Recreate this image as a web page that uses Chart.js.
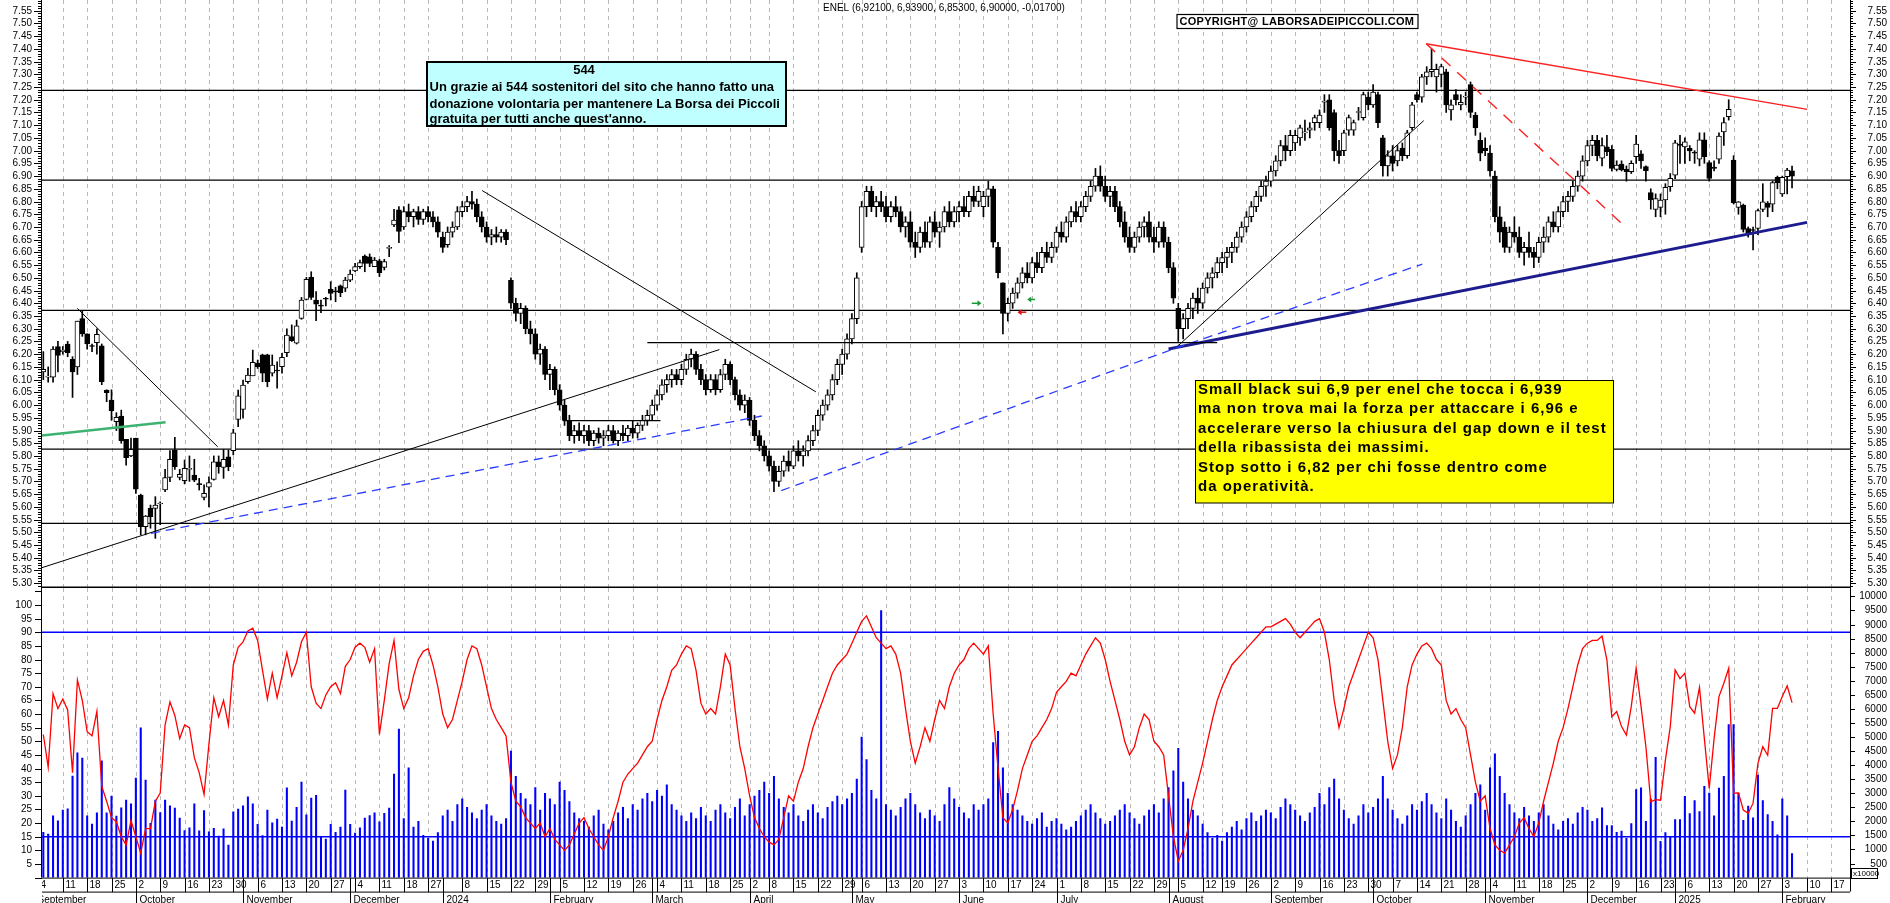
<!DOCTYPE html>
<html>
<head>
<meta charset="utf-8">
<script src="https://cdn.jsdelivr.net/npm/chart.js@4.4.1/dist/chart.umd.min.js"></script>
<style>
html, body { margin: 0; padding: 0; background: #fff; }
#wrap { position: relative; width: 1890px; height: 903px; overflow: hidden; }
#priceCanvas { position: absolute; left: 0; top: 0; }
#oscCanvas { position: absolute; left: 0; top: 588px; }
</style>
</head>
<body>
<div id="wrap">
  <canvas id="priceCanvas" width="1890" height="588"></canvas>
  <canvas id="oscCanvas" width="1890" height="315"></canvas>
</div>
<script>
// ENEL daily, 5 Sep 2023 - 5 Feb 2025 (one value per trading day)
const openP = [
  // Sep 2023
  6.13,6.11,6.11,6.23,6.21,6.24,6.18,6.15,6.34,6.28,6.232,6.245,6.233,6.059,6.02,5.935,5.957,5.865,5.80,
  // Oct
  5.869,5.646,5.522,5.594,5.594,5.611,5.666,5.716,5.823,5.716,5.703,5.747,5.725,5.688,5.637,5.677,5.708,5.777,5.755,5.797,5.821,5.944,
  // Nov
  5.983,6.092,6.115,6.164,6.197,6.197,6.125,6.135,6.151,6.206,6.269,6.243,6.341,6.415,6.502,6.413,6.39,6.417,6.455,6.446,6.469,6.459,
  // Dec
  6.491,6.527,6.544,6.586,6.583,6.544,6.567,6.541,6.616,6.708,6.767,6.70,6.76,6.74,6.76,6.73,6.76,6.74,6.72,
  // Jan 2024
  6.66,6.63,6.68,6.70,6.76,6.78,6.80,6.79,6.74,6.70,6.66,6.67,6.66,6.68,6.49,6.40,6.36,6.38,6.30,6.28,6.20,6.22,
  // Feb
  6.12,6.14,6.06,6.00,5.94,5.88,5.90,5.88,5.90,5.86,5.89,5.87,5.88,5.90,5.86,5.89,5.88,5.91,5.89,5.92,5.94,
  // Mar
  5.96,6.00,6.04,6.08,6.10,6.12,6.10,6.14,6.18,6.20,6.14,6.10,6.06,6.10,6.06,6.12,6.16,6.10,6.04,6.00,
  // Apr
  6.02,5.94,5.88,5.84,5.80,5.76,5.70,5.74,5.78,5.76,5.82,5.80,5.82,5.86,5.90,5.96,6.00,6.04,6.10,6.16,6.20,
  // May
  6.26,6.34,6.62,6.78,6.84,6.78,6.80,6.78,6.74,6.78,6.76,6.70,6.72,6.64,6.62,6.68,6.64,6.72,6.68,6.70,6.76,6.72,
  // Jun
  6.76,6.78,6.76,6.82,6.80,6.78,6.82,6.85,6.62,6.48,6.36,6.40,6.44,6.48,6.52,6.50,6.56,6.54,6.60,6.58,
  // Jul
  6.62,6.68,6.66,6.72,6.76,6.74,6.78,6.82,6.86,6.90,6.86,6.82,6.84,6.78,6.72,6.66,6.62,6.66,6.70,6.72,6.66,6.64,6.70,
  // Aug
  6.64,6.54,6.38,6.30,6.34,6.38,6.42,6.40,6.46,6.50,6.52,6.56,6.58,6.60,6.62,6.66,6.70,6.74,6.78,6.82,6.86,
  // Sep
  6.88,6.92,6.96,7.02,7.00,7.03,7.05,7.07,7.08,7.11,7.11,7.19,7.20,7.15,7.00,7.00,7.08,7.08,7.15,7.13,7.21,
  // Oct
  7.18,7.22,7.05,6.94,6.98,6.96,7.01,6.98,7.09,7.22,7.21,7.29,7.31,7.29,7.30,7.31,7.16,7.22,7.18,7.21,7.26,7.14,7.04,
  // Nov
  7.01,6.99,6.90,6.74,6.70,6.62,6.68,6.66,6.60,6.62,6.60,6.58,6.64,6.66,6.72,6.70,6.76,6.80,6.82,6.86,6.90,
  // Dec
  6.96,7.02,7.04,6.97,7.015,7.005,6.926,6.947,6.926,6.917,6.976,6.987,6.937,6.835,6.769,6.777,6.806,6.858,
  // Jan 2025
  6.904,7.026,7.015,7.009,6.993,6.966,7.042,6.953,6.935,6.966,7.074,7.133,6.963,6.777,6.786,6.694,6.688,6.694,6.769,6.793,6.79,6.895,
  // Feb
  6.83,6.898,6.921
];
const highP = [
  6.21,6.15,6.23,6.25,6.23,6.25,6.19,6.33,6.37,6.28,6.24,6.30,6.24,6.06,6.06,5.97,5.98,5.865,5.87,
  5.87,5.65,5.566,5.607,5.64,5.62,5.747,5.821,5.873,5.747,5.784,5.80,5.787,5.712,5.686,5.718,5.80,5.80,5.826,5.823,5.905,6.059,
  6.098,6.144,6.216,6.177,6.20,6.20,6.197,6.17,6.203,6.30,6.315,6.334,6.423,6.502,6.524,6.446,6.413,6.423,6.485,6.463,6.472,6.502,
  6.531,6.557,6.57,6.59,6.594,6.58,6.573,6.573,6.627,6.769,6.78,6.78,6.79,6.77,6.78,6.77,6.78,6.76,6.74,
  6.68,6.70,6.72,6.78,6.80,6.82,6.84,6.81,6.76,6.72,6.69,6.70,6.69,6.69,6.50,6.42,6.40,6.39,6.33,6.30,6.24,6.23,
  6.16,6.15,6.08,6.02,5.96,5.92,5.93,5.92,5.92,5.90,5.91,5.90,5.92,5.92,5.90,5.92,5.92,5.94,5.93,5.96,5.98,
  6.02,6.06,6.10,6.12,6.14,6.14,6.16,6.20,6.22,6.21,6.16,6.12,6.12,6.12,6.14,6.18,6.17,6.11,6.06,6.04,
  6.03,5.96,5.90,5.86,5.82,5.78,5.76,5.80,5.82,5.84,5.86,5.84,5.88,5.92,5.98,6.02,6.06,6.12,6.18,6.22,6.28,
  6.36,6.52,6.80,6.86,6.86,6.82,6.84,6.82,6.80,6.82,6.78,6.74,6.76,6.68,6.70,6.72,6.74,6.76,6.72,6.78,6.80,6.78,
  6.80,6.82,6.84,6.86,6.86,6.84,6.88,6.86,6.64,6.48,6.42,6.46,6.50,6.54,6.56,6.58,6.60,6.62,6.64,6.64,
  6.70,6.72,6.74,6.78,6.80,6.80,6.84,6.88,6.93,6.94,6.90,6.86,6.86,6.80,6.76,6.70,6.68,6.72,6.74,6.76,6.70,6.72,6.72,
  6.66,6.56,6.40,6.36,6.40,6.44,6.46,6.48,6.52,6.54,6.58,6.60,6.62,6.64,6.68,6.72,6.76,6.80,6.84,6.88,6.90,
  6.94,6.98,7.04,7.06,7.08,7.08,7.10,7.12,7.11,7.14,7.16,7.22,7.22,7.16,7.04,7.08,7.14,7.12,7.17,7.23,7.23,
  7.26,7.23,7.06,7.00,7.02,7.02,7.03,7.08,7.19,7.23,7.30,7.33,7.40,7.34,7.34,7.32,7.20,7.24,7.22,7.23,7.27,7.15,7.07,
  7.05,7.02,6.92,6.78,6.72,6.70,6.74,6.70,6.64,6.68,6.62,6.66,6.70,6.74,6.76,6.78,6.82,6.84,6.88,6.92,6.98,
  7.04,7.06,7.06,7.05,7.06,7.02,6.96,6.96,6.94,6.96,7.06,7.00,6.94,6.85,6.83,6.83,6.87,6.91,
  7.04,7.06,7.05,7.02,7.00,7.07,7.07,6.96,6.96,7.07,7.13,7.20,6.98,6.80,6.79,6.70,6.70,6.77,6.87,6.80,6.88,6.90,
  6.90,6.93,6.939
];
const lowP = [
  6.10,6.09,6.09,6.13,6.20,6.19,6.03,6.12,6.27,6.22,6.21,6.20,6.08,6.013,5.94,5.90,5.85,5.764,5.797,
  5.653,5.49,5.49,5.516,5.476,5.53,5.66,5.699,5.747,5.706,5.69,5.70,5.699,5.666,5.627,5.60,5.705,5.732,5.712,5.742,5.804,5.915,
  5.948,6.085,6.115,6.144,6.092,6.072,6.114,6.066,6.125,6.19,6.25,6.24,6.337,6.413,6.415,6.332,6.363,6.39,6.413,6.406,6.426,6.446,
  6.485,6.524,6.537,6.524,6.544,6.544,6.505,6.531,6.583,6.701,6.638,6.69,6.72,6.70,6.71,6.71,6.72,6.70,6.66,
  6.60,6.62,6.66,6.69,6.74,6.76,6.77,6.72,6.68,6.64,6.63,6.64,6.64,6.63,6.38,6.33,6.32,6.28,6.24,6.18,6.16,6.10,
  6.06,6.04,5.98,5.92,5.86,5.85,5.86,5.85,5.84,5.84,5.85,5.84,5.86,5.85,5.84,5.86,5.86,5.87,5.87,5.90,5.92,
  5.94,5.98,6.02,6.05,6.07,6.08,6.08,6.12,6.15,6.12,6.08,6.04,6.05,6.04,6.05,6.10,6.08,6.02,5.98,5.97,
  5.92,5.86,5.82,5.78,5.74,5.66,5.68,5.72,5.74,5.75,5.78,5.76,5.80,5.84,5.88,5.94,5.98,6.02,6.08,6.12,6.18,
  6.24,6.32,6.60,6.74,6.76,6.74,6.76,6.72,6.72,6.74,6.68,6.66,6.62,6.58,6.60,6.62,6.62,6.66,6.62,6.68,6.70,6.70,
  6.72,6.74,6.74,6.78,6.78,6.74,6.78,6.62,6.50,6.28,6.33,6.38,6.42,6.46,6.48,6.48,6.52,6.52,6.56,6.56,
  6.60,6.64,6.64,6.70,6.72,6.72,6.76,6.80,6.84,6.84,6.80,6.78,6.76,6.70,6.64,6.60,6.60,6.64,6.66,6.64,6.60,6.62,6.62,
  6.52,6.40,6.25,6.26,6.30,6.34,6.36,6.38,6.44,6.46,6.50,6.52,6.54,6.56,6.60,6.64,6.68,6.72,6.76,6.80,6.82,
  6.86,6.90,6.94,6.96,6.98,7.00,7.02,7.04,7.05,7.08,7.09,7.15,7.08,6.96,6.95,6.98,7.06,7.06,7.12,7.12,7.16,
  7.17,7.09,6.90,6.90,6.92,6.94,6.96,6.97,7.08,7.19,7.19,7.26,7.29,7.23,7.25,7.15,7.12,7.18,7.16,7.18,7.13,7.06,6.96,
  6.98,6.90,6.72,6.64,6.60,6.60,6.64,6.58,6.55,6.58,6.54,6.56,6.60,6.64,6.68,6.68,6.74,6.76,6.80,6.84,6.88,
  6.94,6.98,6.96,6.94,6.98,6.92,6.92,6.92,6.88,6.91,6.95,6.93,6.88,6.77,6.74,6.74,6.75,6.84,
  6.89,6.95,6.95,6.96,6.95,6.94,6.95,6.88,6.92,6.95,7.02,7.12,6.79,6.75,6.68,6.66,6.61,6.67,6.76,6.74,6.76,6.85,
  6.82,6.83,6.853
];
const closeP = [
  6.14,6.11,6.22,6.195,6.216,6.206,6.13,6.33,6.28,6.24,6.23,6.278,6.092,6.049,5.978,5.952,5.86,5.793,5.826,
  5.669,5.522,5.564,5.561,5.607,5.612,5.715,5.787,5.758,5.728,5.751,5.748,5.705,5.687,5.653,5.695,5.777,5.758,5.787,5.758,5.891,6.036,
  6.079,6.118,6.168,6.151,6.125,6.092,6.157,6.134,6.188,6.275,6.253,6.311,6.413,6.494,6.423,6.397,6.389,6.416,6.439,6.445,6.442,6.491,
  6.515,6.544,6.56,6.557,6.557,6.57,6.52,6.564,6.617,6.727,6.682,6.76,6.74,6.76,6.73,6.76,6.74,6.72,6.68,
  6.62,6.68,6.70,6.76,6.78,6.80,6.79,6.74,6.70,6.66,6.67,6.66,6.68,6.65,6.40,6.36,6.38,6.30,6.28,6.20,6.22,6.12,
  6.14,6.06,6.00,5.94,5.88,5.90,5.88,5.90,5.86,5.89,5.87,5.88,5.90,5.86,5.89,5.88,5.91,5.89,5.92,5.94,5.96,
  6.00,6.04,6.08,6.10,6.12,6.10,6.14,6.18,6.20,6.14,6.10,6.06,6.10,6.06,6.12,6.16,6.10,6.04,6.00,6.02,
  5.94,5.88,5.84,5.80,5.76,5.70,5.74,5.78,5.76,5.82,5.80,5.82,5.86,5.90,5.96,6.00,6.04,6.10,6.16,6.20,6.26,
  6.34,6.50,6.78,6.84,6.78,6.80,6.78,6.74,6.78,6.76,6.70,6.72,6.64,6.62,6.68,6.64,6.72,6.68,6.70,6.76,6.72,6.76,
  6.78,6.76,6.82,6.80,6.84,6.82,6.85,6.64,6.52,6.36,6.40,6.44,6.48,6.52,6.50,6.56,6.54,6.60,6.58,6.62,
  6.68,6.66,6.72,6.76,6.74,6.78,6.82,6.86,6.90,6.86,6.82,6.84,6.78,6.72,6.66,6.62,6.66,6.70,6.72,6.66,6.64,6.70,6.64,
  6.54,6.42,6.30,6.34,6.38,6.42,6.40,6.46,6.50,6.52,6.56,6.58,6.60,6.62,6.66,6.70,6.74,6.78,6.82,6.86,6.88,
  6.92,6.96,7.02,7.00,7.06,7.06,7.09,7.07,7.09,7.13,7.14,7.19,7.09,7.00,6.98,7.07,7.13,7.11,7.15,7.22,7.18,
  7.23,7.11,6.94,6.98,6.95,7.00,6.98,7.07,7.18,7.20,7.29,7.31,7.32,7.32,7.33,7.18,7.18,7.20,7.19,7.21,7.15,7.09,6.99,
  7.00,6.92,6.74,6.68,6.62,6.68,6.66,6.60,6.62,6.60,6.58,6.64,6.66,6.72,6.70,6.76,6.80,6.82,6.86,6.90,6.96,
  7.02,7.04,6.98,7.02,6.996,6.93,6.943,6.924,6.917,6.95,7.026,6.96,6.921,6.806,6.812,6.806,6.856,6.891,
  7.031,7.02,7.035,6.999,6.99,7.042,6.976,6.891,6.93,7.057,7.11,7.162,6.795,6.799,6.69,6.677,6.686,6.764,6.799,6.777,6.874,6.874,
  6.895,6.924,6.90
];
// oscillator (left scale 0-100) and volume (right scale, x10000)
const oscValues = [
  52.5,40.5,67.5,62,65.5,61.5,38.5,72.5,65,53.5,52,61,33.5,28,22,20.5,15,12,21,
  15,9,18,18,28,31,56,64.5,59.5,51,56,55,44,38.5,30.5,49,66,59,65,56,78,84.5,
  86.5,90.5,91.5,87,76,65.5,75,66,74,82.5,74,79,86.5,90,70,64,62,67,70,71.5,67.5,77.5,
  80,84.5,86,84.5,79,84,52.5,65,78.5,87,69,62,66,74,80,83,84,78,70,
  60,55,58,65,72,80,85,84,78,70,62,58,55,52,35,28,26,22,20,18,20,15,
  18,14,12,10,12,16,20,22,18,15,12,10,15,22,28,35,38,40,42,45,48,
  50,58,65,70,76,78,82,85,84,76,64,60,62,60,70,82,78,62,48,40,
  30,22,18,15,13,12,14,22,30,28,35,40,48,55,60,65,70,75,78,80,82,
  86,90,94,96,92,88,86,84,85,82,75,62,50,42,48,55,50,58,65,62,70,75,
  78,80,84,86,84,82,85,60,40,22,20,25,32,40,45,50,52,55,58,62,
  68,70,72,75,74,78,82,85,88,86,80,72,65,58,50,45,48,55,60,58,50,48,45,
  30,15,6,10,18,28,35,42,50,58,65,70,74,78,80,82,84,86,88,90,92,
  92,93,94,95,93,90,88,90,92,94,95,90,80,65,55,62,70,75,80,85,90,
  88,80,65,50,40,45,55,70,78,82,85,86,84,80,78,65,60,62,58,55,45,35,28,
  30,18,12,10,9,12,15,20,22,18,15,20,28,35,42,50,55,62,70,78,84,
  86,87,87,88.6,79.8,59,60.9,55.4,52.3,62.8,76.8,62.8,48,27.8,28.6,28.4,43.1,55.4,
  76.2,73,75,62.7,60.3,69.8,51,32.7,51,66.4,71.3,76.8,31,31.1,24.8,23.6,27.3,41.9,48,44.9,62.1,62.1,
  66.4,70.3,64.2
];
const volumeValues = [
  1610,1550,2200,2020,2400,2450,3610,4440,4250,2200,1900,2300,4150,2300,2900,2190,2480,2760,2620,
  3540,5330,3470,1930,2760,2310,2760,2550,2470,2120,1670,1770,2620,1660,2380,1630,1750,1480,1730,1160,2340,2440,
  2550,2870,2620,1890,1490,2400,1950,2080,1800,3190,2010,2500,3400,2230,2830,2930,1430,1370,1890,1610,1800,3110,
  1890,1580,1770,2120,2210,2300,1980,2290,2470,3680,5280,2100,3900,1800,2000,1500,1400,1300,1600,
  2200,2400,2000,2600,2800,2500,2300,2100,2400,2600,2200,2000,1900,2100,4500,3600,3000,2800,2600,3200,2400,3000,
  2800,2600,3400,3100,2700,2300,2100,2000,1800,2200,2400,1900,1700,2000,2300,2500,2100,2600,2400,2800,3000,
  2700,3100,2900,3300,2600,2400,2200,2000,2300,2100,2500,2200,2000,2400,2600,2300,2100,2500,2800,2200,
  2600,2900,3100,3400,3000,3600,2800,2500,2300,2600,2200,2000,2400,2600,2300,2100,2500,2700,2900,2600,2800,
  3000,3500,5000,4200,3100,2800,9500,2600,2400,2200,2500,2800,3000,2600,2300,2100,2400,2200,2000,2600,3200,2800,
  2500,2300,2100,2600,2400,2600,2800,4800,5200,3900,3000,2600,2400,2200,2000,1900,2100,2300,1800,2000,
  2100,1900,1700,1800,2000,2200,2400,2600,2300,2100,1900,2000,2200,2400,2600,2300,2100,1900,2200,2400,2600,2300,2800,
  3200,3800,4600,3400,2800,2400,2200,1900,1600,1400,1500,1300,1600,1800,2000,1700,2100,2300,2000,2200,2400,
  2300,2100,2500,2800,2600,2400,2200,2000,2300,2500,3000,2600,3200,3500,2800,2400,2100,1900,2200,2600,2300,
  2500,2800,3600,2800,2400,2100,1900,2200,2600,2400,2700,3000,2600,2300,2100,2800,2400,2000,1800,2200,2600,3000,3300,
  2400,3900,4400,3600,3000,2600,2300,2100,2500,2200,2000,2300,2600,2200,1900,1700,2000,2100,1900,2300,2500,
  2400,2000,2100,2478,1850,1850,1610,1650,1400,1920,3130,3190,2000,2800,4280,1290,1600,1440,
  2060,2060,2890,2280,2740,2350,3250,3010,2200,3180,3600,5440,5440,3010,2040,2540,2130,3650,2740,2240,2000,1520,
  2800,2200,850
];

// horizontal support / resistance levels
const levelPrices = [7.237, 6.884, 6.372, 5.827, 5.535];
// drawn trend lines: [fromSlot, fromPrice, toSlot, toPrice]
const trendLines = [
  [6.98, 6.380, 35.8, 5.836],
  [-0.27, 5.361, 138.8, 6.218],
  [22.1, 5.496, 147.5, 5.957],
  [90.1, 6.843, 158.6, 6.052],
  [-0.27, 5.880, 25.1, 5.932],
  [124, 6.245, 241, 6.245],
  [106.7, 5.939, 126.7, 5.939],
  [151.5, 5.664, 232.4, 6.223],
  [232.4, 6.223, 283.1, 6.554],
  [231, 6.220, 362.1, 6.718],
  [232.4, 6.223, 283.4, 7.118],
  [283.9, 7.420, 362.1, 7.162],
  [283.9, 7.420, 325.1, 6.695]
];
const trendStyles = [
  { color: '#000000', width: 1 },
  { color: '#000000', width: 1 },
  { color: '#2a3cff', width: 1.3, dash: [9, 6] },
  { color: '#000000', width: 1 },
  { color: '#3cb371', width: 2.5 },
  { color: '#000000', width: 1.2 },
  { color: '#000000', width: 1.2 },
  { color: '#2a3cff', width: 1.3, dash: [9, 6] },
  { color: '#2a3cff', width: 1.3, dash: [9, 6] },
  { color: '#1c1c8f', width: 3 },
  { color: '#000000', width: 1 },
  { color: '#ff2020', width: 1.4 },
  { color: '#ff2020', width: 1.4, dash: [12, 9] }
];
const oscLevels = [90, 15];

const X_MIN = -0.27, X_MAX = 370.9;
const AXIS_FONT = '10px "Liberation Sans", Arial, sans-serif';
const holidays = ['2023-12-25','2023-12-26','2024-01-01','2024-03-29','2024-04-01','2024-05-01',
  '2024-08-15','2024-12-24','2024-12-25','2024-12-26','2024-12-31','2025-01-01'];
const monthNames = ['January','February','March','April','May','June','July','August',
  'September','October','November','December'];

// trading calendar -> slot numbers on the x axis
function ymd(d) {
  return d.getFullYear() + '-' + String(d.getMonth() + 1).padStart(2, '0') + '-' + String(d.getDate()).padStart(2, '0');
}
const calendar = [];
for (let d = new Date(2023, 8, 1); d <= new Date(2025, 1, 28); d.setDate(d.getDate() + 1)) {
  const dow = d.getDay();
  if (dow === 0 || dow === 6 || holidays.includes(ymd(d))) continue;
  calendar.push(new Date(d));
}
const FIRST = calendar.findIndex(d => ymd(d) === '2023-09-05');

const weekTicks = [];
let lastMonday = null;
calendar.forEach((d, k) => {
  const monday = new Date(d);
  monday.setDate(d.getDate() - ((d.getDay() + 6) % 7));
  if (ymd(monday) === lastMonday) return;
  lastMonday = ymd(monday);
  const sunday = new Date(monday);
  sunday.setDate(monday.getDate() + 6);
  const newYearWeek = sunday.getFullYear() !== monday.getFullYear() || (monday.getMonth() === 0 && monday.getDate() === 1);
  if (!newYearWeek) weekTicks.push({ pos: k - FIRST, label: String(d.getDate()) });
});
const monthTicks = [];
calendar.forEach((d, k) => {
  if (k === 0 || calendar[k - 1].getMonth() !== d.getMonth()) {
    monthTicks.push({ pos: k - FIRST, label: d.getMonth() === 0 ? String(d.getFullYear()) : monthNames[d.getMonth()] });
  }
});

function hline(ctx, x1, x2, y) { ctx.beginPath(); ctx.moveTo(x1, y); ctx.lineTo(x2, y); ctx.stroke(); }
function vline(ctx, x, y1, y2) { ctx.beginPath(); ctx.moveTo(x, y1); ctx.lineTo(x, y2); ctx.stroke(); }

function drawWeekGrid(chart) {
  const { ctx, chartArea: a, scales: { x } } = chart;
  ctx.save();
  ctx.strokeStyle = '#b8b8b8';
  ctx.lineWidth = 1;
  ctx.setLineDash([4, 4]);
  weekTicks.forEach(w => {
    const px = Math.round(x.getPixelForValue(w.pos)) + 0.5;
    if (px > a.left && px < a.right) vline(ctx, px, a.top, a.bottom);
  });
  ctx.restore();
}

function arrow(ctx, x1, y, x2, color) {
  const dir = x2 > x1 ? 1 : -1;
  ctx.strokeStyle = color; ctx.fillStyle = color; ctx.lineWidth = 1.5;
  hline(ctx, x1, x2 - dir * 3, y);
  ctx.beginPath();
  ctx.moveTo(x2, y); ctx.lineTo(x2 - dir * 4, y - 3); ctx.lineTo(x2 - dir * 4, y + 3);
  ctx.closePath(); ctx.fill();
}

const priceDecor = {
  id: 'priceDecor',
  beforeDatasetsDraw: drawWeekGrid,
  afterDraw(chart) {
    const { ctx, chartArea: a, scales: { x, y } } = chart;
    ctx.save();
    ctx.strokeStyle = '#000';
    ctx.lineWidth = 1;
    vline(ctx, a.left - 0.5, 0, a.bottom);
    vline(ctx, a.right + 0.5, 0, a.bottom);
    ctx.lineWidth = 1.6;
    hline(ctx, a.left, a.right, a.bottom - 0.8);
    ctx.lineWidth = 1;
    ctx.font = AXIS_FONT;
    ctx.fillStyle = '#000';
    ctx.textBaseline = 'middle';
    ctx.textAlign = 'right';
    for (let k = 529; k <= 759; k++) {
      const py = Math.round(y.getPixelForValue(k / 100)) + 0.5;
      const major = k % 5 === 0;
      hline(ctx, a.left - (major ? 8 : 4), a.left, py);
      hline(ctx, a.right, a.right + (major ? 6 : 3), py);
      if (major && k >= 530 && k <= 755) {
        const t = (k / 100).toFixed(2);
        ctx.fillText(t, a.left - 10, py);
        ctx.fillText(t, 1887, py);
      }
    }

    // title line
    ctx.textAlign = 'left';
    ctx.fillText('ENEL (6,92100, 6,93900, 6,85300, 6,90000, -0,01700)', 823, 8);

    // arrows near the June low
    arrow(ctx, x.getPixelForValue(190.6), y.getPixelForValue(6.40), x.getPixelForValue(192.6), '#1a9a3a');
    arrow(ctx, x.getPixelForValue(201.8), y.getPixelForValue(6.365), x.getPixelForValue(200.0), '#e01010');
    arrow(ctx, x.getPixelForValue(203.6), y.getPixelForValue(6.415), x.getPixelForValue(202.0), '#1a9a3a');

    // donors box
    ctx.fillStyle = '#c0ffff';
    ctx.fillRect(427, 62, 359, 64);
    ctx.strokeStyle = '#000';
    ctx.lineWidth = 2;
    ctx.strokeRect(427, 62, 359, 64);
    ctx.fillStyle = '#000';
    ctx.font = 'bold 13px "Liberation Sans", Arial, sans-serif';
    ctx.textAlign = 'center';
    ctx.fillText('544', 584, 70.5);
    ctx.textAlign = 'left';
    ctx.fillText('Un grazie ai 544 sostenitori del sito che hanno fatto una', 429.5, 87.5);
    ctx.fillText('donazione volontaria per mantenere La Borsa dei Piccoli', 429.5, 104);
    ctx.fillText("gratuita per tutti anche quest'anno.", 429.5, 119.5);

    // copyright box
    ctx.fillStyle = '#fff';
    ctx.fillRect(1177, 14.5, 241, 14);
    ctx.lineWidth = 1.2;
    ctx.strokeRect(1177, 14.5, 241, 14);
    ctx.fillStyle = '#000';
    ctx.font = 'bold 11px "Liberation Sans", Arial, sans-serif';
    ctx.letterSpacing = '0.3px';
    ctx.fillText('COPYRIGHT@ LABORSADEIPICCOLI.COM', 1179.5, 22);

    // comment box
    ctx.fillStyle = '#ffff00';
    ctx.fillRect(1195.5, 380.5, 418, 122.5);
    ctx.lineWidth = 1;
    ctx.strokeRect(1195.5, 380.5, 418, 122.5);
    ctx.fillStyle = '#000';
    ctx.font = 'bold 15px "Liberation Sans", Arial, sans-serif';
    ctx.letterSpacing = '1px';
    const note = [
      'Small black sui 6,9 per enel che tocca i 6,939',
      'ma non trova mai la forza per attaccare i 6,96 e',
      'accelerare verso la chiusura del gap down e il test',
      'della ribassista dei massimi.',
      'Stop sotto i 6,82 per chi fosse dentro come',
      'da operatività.'
    ];
    note.forEach((t, k) => ctx.fillText(t, 1198, 389.5 + k * 19.5));
    ctx.restore();
  }
};

const oscDecor = {
  id: 'oscDecor',
  beforeDatasetsDraw: drawWeekGrid,
  afterDraw(chart) {
    const { ctx, chartArea: a, scales: { x, l, v } } = chart;
    const H = chart.height;
    ctx.save();
    ctx.strokeStyle = '#000';
    ctx.lineWidth = 1;
    vline(ctx, a.left - 0.5, 0, a.bottom);
    vline(ctx, a.right + 0.5, 0, a.bottom + 14);
    hline(ctx, a.left, a.right, a.bottom + 0.5);
    ctx.font = AXIS_FONT;
    ctx.fillStyle = '#000';
    ctx.textBaseline = 'middle';
    ctx.textAlign = 'right';
    for (let k = 0; k <= 105; k += 5) {
      const py = Math.round(l.getPixelForValue(k)) + 0.5;
      hline(ctx, a.left - 7, a.left, py);
      if (k >= 5 && k <= 100) ctx.fillText(String(k), a.left - 10, py);
    }
    for (let k = 0; k <= 10000; k += 500) {
      const py = Math.round(v.getPixelForValue(k)) + 0.5;
      hline(ctx, a.right, a.right + 5, py);
      if (k >= 500) ctx.fillText(String(k), 1887, py);
    }
    // x10000 tag
    ctx.strokeRect(1851.5, 280.5, 26, 10);
    ctx.font = '8px "Liberation Sans", Arial, sans-serif';
    ctx.textAlign = 'left';
    ctx.fillText('x10000', 1853, 285.5);

    // date rows
    const rowTop = a.bottom + 0.5, rowMid = a.bottom + 14.5;
    hline(ctx, a.left, a.right, rowMid);
    ctx.beginPath();
    ctx.rect(a.left, rowTop, a.right - a.left, H - rowTop);
    ctx.clip();
    ctx.font = AXIS_FONT;
    weekTicks.forEach(w => {
      const px = Math.round(x.getPixelForValue(w.pos)) + 0.5;
      if (px < a.left - 20 || px > a.right) return;
      vline(ctx, px, rowTop, rowMid);
      ctx.fillText(w.label, px + 2, rowTop + 7.5);
    });
    monthTicks.forEach(m => {
      const px = Math.round(x.getPixelForValue(m.pos)) + 0.5;
      if (px < a.left - 60 || px > a.right) return;
      vline(ctx, px, rowTop, H);
      ctx.fillText(m.label, px + 3, rowMid + 8);
    });
    ctx.restore();
  }
};

const slots = closeP.map((c, i) => i);

new Chart(document.getElementById('priceCanvas'), {
  type: 'bar',
  data: {
    datasets: [
      ...trendLines.map((t, k) => ({
        type: 'line',
        data: [{ x: t[0], y: t[1] }, { x: t[2], y: t[3] }],
        borderColor: trendStyles[k].color,
        borderWidth: trendStyles[k].width,
        borderDash: trendStyles[k].dash || [],
        pointRadius: 0,
        order: 0
      })),
      {
        type: 'bar',
        data: slots.map(i => ({ x: i, y: [openP[i], closeP[i]] })),
        backgroundColor: slots.map(i => closeP[i] >= openP[i] ? '#ffffff' : '#000000'),
        borderColor: '#000000',
        borderWidth: 1,
        borderSkipped: false,
        barThickness: 5,
        minBarLength: 1,
        grouped: false,
        order: 2
      },
      {
        type: 'bar',
        data: slots.map(i => ({ x: i, y: [lowP[i], highP[i]] })),
        backgroundColor: '#000000',
        barThickness: 1,
        grouped: false,
        order: 3
      },
      ...levelPrices.map(p => ({
        type: 'line',
        data: [{ x: X_MIN, y: p }, { x: X_MAX, y: p }],
        borderColor: '#000000',
        borderWidth: 1.3,
        pointRadius: 0,
        order: 4
      }))
    ]
  },
  options: {
    responsive: false,
    animation: false,
    events: [],
    layout: { padding: { left: 42, right: 40, top: 0, bottom: 0 } },
    plugins: { legend: { display: false }, tooltip: { enabled: false } },
    scales: {
      x: { type: 'linear', min: X_MIN, max: X_MAX, offset: false, display: false },
      y: { type: 'linear', min: 5.281, max: 7.592, display: false }
    }
  },
  plugins: [priceDecor]
});

new Chart(document.getElementById('oscCanvas'), {
  type: 'bar',
  data: {
    datasets: [
      {
        type: 'line',
        yAxisID: 'l',
        data: slots.map(i => ({ x: i, y: oscValues[i] })),
        borderColor: '#ff0000',
        borderWidth: 1.3,
        pointRadius: 0,
        order: 0
      },
      ...oscLevels.map(p => ({
        type: 'line',
        yAxisID: 'l',
        data: [{ x: X_MIN, y: p }, { x: X_MAX, y: p }],
        borderColor: '#0000ff',
        borderWidth: 1.4,
        pointRadius: 0,
        order: 1
      })),
      {
        type: 'bar',
        yAxisID: 'v',
        data: slots.map(i => ({ x: i, y: volumeValues[i] })),
        backgroundColor: '#0000ff',
        barThickness: 1.4,
        grouped: false,
        order: 3
      }
    ]
  },
  options: {
    responsive: false,
    animation: false,
    events: [],
    layout: { padding: { left: 42, right: 40, top: 0, bottom: 25.4 } },
    plugins: { legend: { display: false }, tooltip: { enabled: false } },
    scales: {
      x: { type: 'linear', min: X_MIN, max: X_MAX, offset: false, display: false },
      l: { type: 'linear', position: 'left', min: 0, max: 106.24, display: false },
      v: { type: 'linear', position: 'right', min: 0, max: 10299, display: false }
    }
  },
  plugins: [oscDecor]
});
</script>
</body>
</html>
